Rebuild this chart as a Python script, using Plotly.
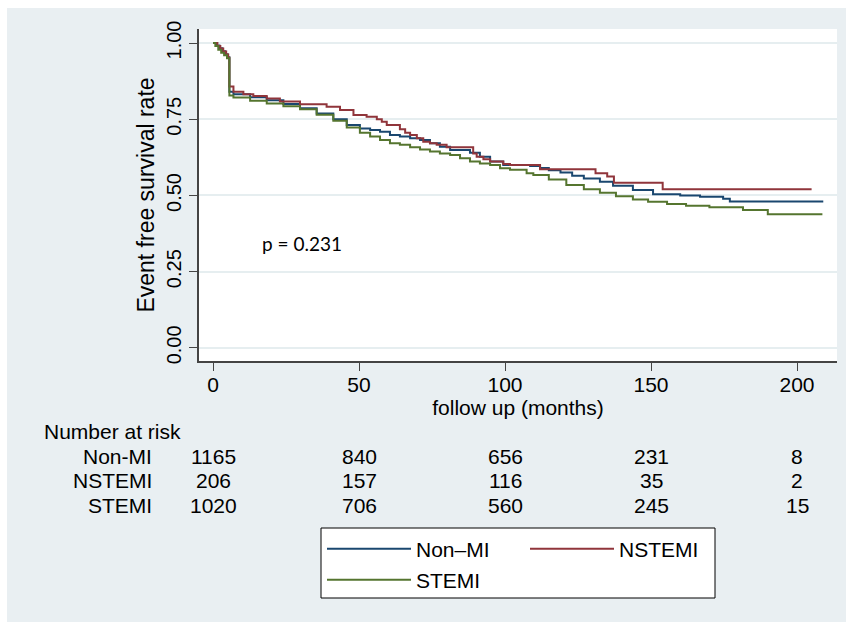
import plotly.graph_objects as go

# ---------------- data ----------------
group_names = ["Non\u2013MI", "NSTEMI", "STEMI"]
table_labels = ["Non-MI", "NSTEMI", "STEMI"]
group_colors = ["#1a476f", "#90353b", "#55752f"]

nonmi_time = [0, 1.2, 2.2, 3.2, 4.2, 5.0, 5.6, 7.0, 12.7, 18.4, 24.1, 29.8, 35.5, 41.2, 45.8, 50.3,
              53.8, 57.2, 60.6, 64.0, 67.5, 70.9, 74.3, 77.7, 81.2, 88.0, 91.4, 94.9, 99.4, 108.6,
              112.0, 115.0, 119.0, 123.0, 127.0, 132.5, 137.0, 143.8, 150.7, 160.0, 166.8, 174.7,
              177.0, 209.0]
nonmi_surv = [1.0, 0.992, 0.983, 0.973, 0.963, 0.953, 0.840, 0.832, 0.822, 0.812, 0.800, 0.786,
              0.769, 0.750, 0.731, 0.720, 0.715, 0.709, 0.698, 0.693, 0.688, 0.682, 0.671, 0.660,
              0.649, 0.640, 0.627, 0.611, 0.600, 0.597, 0.590, 0.583, 0.575, 0.565, 0.556, 0.545,
              0.532, 0.518, 0.504, 0.500, 0.496, 0.489, 0.480, 0.480]

nstemi_time = [0, 1.5, 2.5, 3.5, 4.5, 5.2, 5.6, 7.0, 10.4, 13.8, 18.4, 22.9, 29.8, 38.9, 43.5, 48.1,
               52.6, 56.1, 57.8, 59.5, 64.0, 65.8, 67.5, 69.8, 72.0, 74.3, 76.6, 80.0, 89.1, 90.3,
               92.6, 94.9, 99.4, 101.7, 112.0, 131.0, 135.0, 137.3, 154.0, 205.0]
nstemi_surv = [1.0, 0.99, 0.982, 0.972, 0.962, 0.952, 0.857, 0.840, 0.832, 0.826, 0.818, 0.808,
               0.799, 0.791, 0.780, 0.764, 0.758, 0.750, 0.742, 0.731, 0.717, 0.706, 0.698, 0.688,
               0.676, 0.671, 0.666, 0.658, 0.638, 0.627, 0.619, 0.611, 0.603, 0.600, 0.586, 0.573,
               0.562, 0.542, 0.520, 0.520]

stemi_time = [0, 0.8, 1.8, 2.8, 3.8, 4.8, 5.6, 7.0, 12.7, 18.4, 24.1, 29.8, 35.5, 41.2, 45.8, 50.3,
              53.8, 57.2, 60.6, 64.0, 67.5, 70.9, 74.3, 77.7, 81.2, 84.6, 88.0, 91.4, 94.9, 98.3,
              101.7, 107.4, 109.7, 115.0, 121.0, 127.0, 132.5, 138.0, 143.8, 149.0, 155.5, 162.0,
              170.0, 181.5, 190.0, 208.7]
stemi_surv = [1.0, 0.99, 0.978, 0.968, 0.96, 0.95, 0.828, 0.821, 0.811, 0.802, 0.793, 0.783,
              0.765, 0.745, 0.723, 0.706, 0.693, 0.682, 0.671, 0.666, 0.658, 0.651, 0.644, 0.638,
              0.633, 0.622, 0.611, 0.605, 0.600, 0.589, 0.584, 0.573, 0.567, 0.552, 0.534, 0.520,
              0.509, 0.497, 0.487, 0.479, 0.472, 0.466, 0.461, 0.452, 0.438, 0.438]

risk_times = [0, 50, 100, 150, 200]
risk_nonmi = [1165, 840, 656, 231, 8]
risk_nstemi = [206, 157, 116, 35, 2]
risk_stemi = [1020, 706, 560, 245, 15]

x_ticks = [0, 50, 100, 150, 200]
y_ticks = [0, 0.25, 0.5, 0.75, 1.0]
y_ticktext = ["0.00", "0.25", "0.50", "0.75", "1.00"]
p_text = "p = 0.231"

# ---------------- figure ----------------
W, H = 846, 622
OFF = 0  # body margin removed via post_script
ML, MR, MT, MB = 199, 9, 29, 261
PW, PH = W - ML - MR, H - MT - MB

def px_x(px):  # screenshot pixel -> paper x
    return (px - OFF - ML) / PW

def px_y(py):  # screenshot pixel -> paper y
    return (H - MB - (py - OFF)) / PH

FONT = "Liberation Sans, Arial, Helvetica, sans-serif"
FS = 21
BG = "#e9eff2"

fig = go.Figure()
series = [(nonmi_time, nonmi_surv), (nstemi_time, nstemi_surv), (stemi_time, stemi_surv)]
legend_ids = ["legend", "legend", "legend2"]
for (t, s), name, col, lg in zip(series, group_names, group_colors, legend_ids):
    fig.add_trace(go.Scatter(x=t, y=s, mode="lines", name=name, line=dict(color=col, width=2, shape="hv"),
                             legend=lg, hoverinfo="skip"))

annotations = []
annotations.append(dict(x=30.5, y=0.341, xref="x", yref="y", text=p_text, showarrow=False,
                        font=dict(family="Lato, Open Sans, sans-serif", size=19, color="black")))
annotations.append(dict(x=px_x(42), y=px_y(431), xref="paper", yref="paper", text="Number at risk",
                        showarrow=False, xanchor="left", yanchor="middle",
                        font=dict(family=FONT, size=FS, color="black")))
row_py = [456, 480, 505]
for lab, counts, py in zip(table_labels, [risk_nonmi, risk_nstemi, risk_stemi], row_py):
    annotations.append(dict(x=px_x(154), y=px_y(py), xref="paper", yref="paper", text=lab,
                            showarrow=False, xanchor="right", yanchor="middle",
                            font=dict(family=FONT, size=FS, color="black")))
    for t, c in zip(risk_times, counts):
        annotations.append(dict(x=t, y=px_y(py), xref="x", yref="paper", text=str(c),
                                showarrow=False, xanchor="center", yanchor="middle",
                                font=dict(family=FONT, size=FS, color="black")))

shapes = [
    # white outer frame (left and top strips of the original image)
    dict(type="rect", xref="paper", yref="paper", x0=px_x(-2), x1=px_x(7), y0=px_y(H + 2), y1=px_y(-2),
         fillcolor="white", line=dict(width=0), layer="below"),
    dict(type="rect", xref="paper", yref="paper", x0=px_x(-2), x1=px_x(W + 2), y0=px_y(8), y1=px_y(-2),
         fillcolor="white", line=dict(width=0), layer="below"),
    # legend box
    dict(type="rect", xref="paper", yref="paper", x0=px_x(321), x1=px_x(715), y0=px_y(598), y1=px_y(528),
         fillcolor="white", line=dict(color="black", width=1), layer="below"),
]

fig.update_layout(
    width=W, height=H,
    margin=dict(l=ML, r=MR, t=MT, b=MB, autoexpand=False),
    paper_bgcolor=BG, plot_bgcolor="white",
    font=dict(family=FONT, size=FS, color="black"),
    xaxis=dict(range=[-4.8, 213.7], tickvals=x_ticks, ticks="outside", ticklen=8, tickwidth=1.3,
               tickcolor="#444", showline=True, linecolor="#444", linewidth=1.5, showgrid=False,
               zeroline=False, tickfont=dict(size=FS), fixedrange=True, ticklabelstandoff=-4,
               title=dict(text="follow up (months)", font=dict(size=FS), standoff=0)),
    yaxis=dict(range=[-0.043, 1.046], tickvals=y_ticks, ticktext=y_ticktext, tickangle=-90,
               ticks="outside", ticklen=8, tickwidth=1.3, tickcolor="#444", showline=True,
               linecolor="#444", linewidth=1.5, showgrid=True, gridcolor="#e6eef0", gridwidth=1.5,
               zeroline=False, tickfont=dict(size=20), fixedrange=True,
               title=dict(text="Event free survival rate", font=dict(size=23), standoff=2)),
    legend=dict(orientation="h", x=px_x(322), y=px_y(549), xanchor="left", yanchor="middle",
                bgcolor="rgba(0,0,0,0)", borderwidth=0, entrywidth=104, entrywidthmode="pixels",
                itemwidth=84, font=dict(size=FS), tracegroupgap=0),
    legend2=dict(orientation="h", x=px_x(322), y=px_y(580), xanchor="left", yanchor="middle",
                 bgcolor="rgba(0,0,0,0)", borderwidth=0, itemwidth=84, font=dict(size=FS)),
    annotations=annotations,
    shapes=shapes,
)

fig.write_html("out.html", config={"displayModeBar": False},
               post_script="document.body.style.margin='0px';document.body.style.overflow='hidden';")
